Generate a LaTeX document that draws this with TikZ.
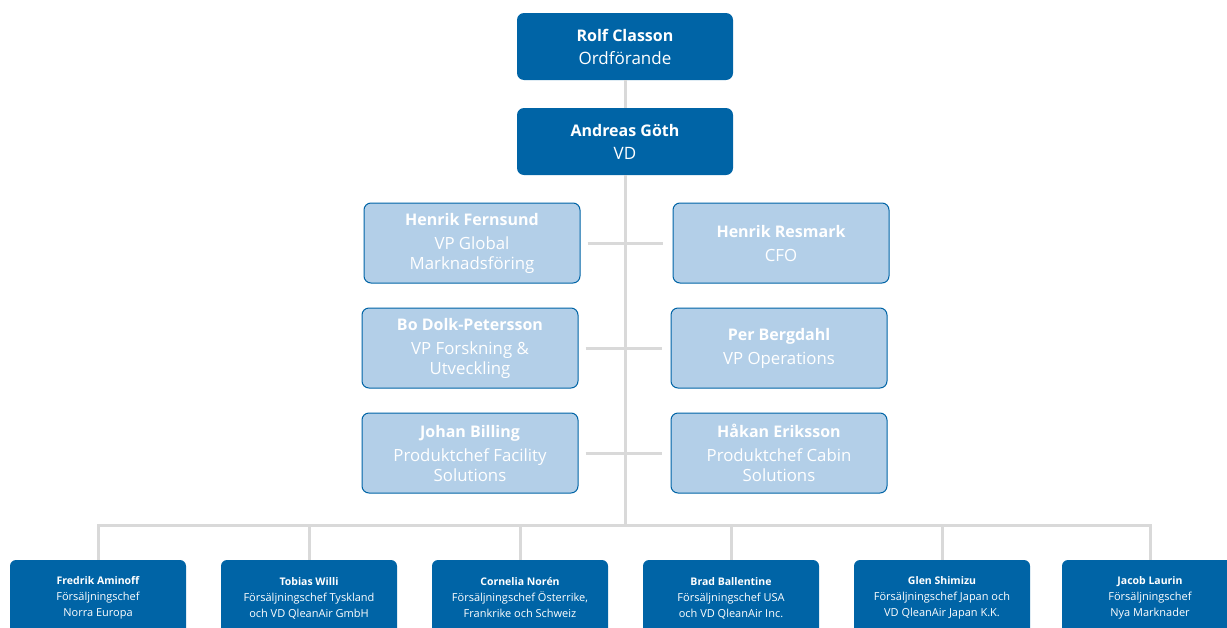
\documentclass[tikz,border=0pt]{standalone}
\usepackage{fontspec}
\setmainfont{Open Sans}
\usetikzlibrary{positioning}
\definecolor{qblue}{HTML}{0064A6}
\definecolor{qlight}{HTML}{B3CFE8}
\definecolor{qgray}{HTML}{D9D9D9}
\newcommand{\pname}[1]{{\fontsize{16}{22}\selectfont\bfseries #1}}
\newcommand{\sname}[1]{{\fontsize{10.5}{16}\selectfont\bfseries #1}}

\begin{document}
\begin{tikzpicture}[
        x=1pt, y=-1pt,
        topbox/.style={rectangle, rounded corners=7pt, fill=qblue, text=white, minimum width=216pt, minimum height=67pt, inner sep=0pt, align=center, font=\fontsize{17}{23}\selectfont},
        vpbox/.style={rectangle, rounded corners=7pt, draw=qblue, line width=1pt, fill=qlight, text=white, minimum width=216pt, minimum height=80pt, inner sep=0pt, align=center, font=\fontsize{16.8}{20}\selectfont},
        salesbox/.style={rectangle, rounded corners=6pt, fill=qblue, text=white, minimum width=176pt, minimum height=76pt, inner sep=0pt, align=center, font=\fontsize{11}{16}\selectfont},
        line/.style={draw=qgray, line width=3pt}
    ]
        \path[use as bounding box, clip] (0,0) rectangle (1227,627);

        % Ledning
        \node (chair) [topbox] at (625,46.5) {\pname{Rolf Classon}\\Ordförande};
        \node (ceo) [topbox] at (625,141.5) {\pname{Andreas Göth}\\VD};

        % Ledningsgrupp
        \node (fernsund) [vpbox] at (472,243) {\pname{Henrik Fernsund}\\[4pt]VP Global\\Marknadsföring};
        \node (resmark) [vpbox] at (781,243) {\pname{Henrik Resmark}\\[4pt]CFO};
        \node (dolk) [vpbox] at (470,348) {\pname{Bo Dolk-Petersson}\\[4pt]VP Forskning \&\\Utveckling};
        \node (bergdahl) [vpbox] at (779,348) {\pname{Per Bergdahl}\\[4pt]VP Operations};
        \node (billing) [vpbox] at (470,453) {\pname{Johan Billing}\\[4pt]Produktchef Facility\\Solutions};
        \node (eriksson) [vpbox] at (779,453) {\pname{Håkan Eriksson}\\[4pt]Produktchef Cabin\\Solutions};

        % Försäljning
        \node (aminoff) [salesbox] at (98,598) {\sname{Fredrik Aminoff}\\Försäljningschef\\Norra Europa};
        \node (willi) [salesbox] at (309,598) {\sname{Tobias Willi}\\Försäljningschef Tyskland\\och VD QleanAir GmbH};
        \node (noren) [salesbox] at (520,598) {\sname{Cornelia Norén}\\Försäljningschef Österrike,\\Frankrike och Schweiz};
        \node (ballentine) [salesbox] at (731,598) {\sname{Brad Ballentine}\\Försäljningschef USA\\och VD QleanAir Inc.};
        \node (shimizu) [salesbox] at (942,598) {\sname{Glen Shimizu}\\Försäljningschef Japan och\\VD QleanAir Japan K.K.};
        \node (laurin) [salesbox] at (1150,598) {\sname{Jacob Laurin}\\Försäljningschef\\Nya Marknader};

        % Linjer
        \coordinate (bus) at (625,525);
        \draw [line] (chair) -- (ceo);
        \draw [line] (ceo) -- (bus);
        \draw [line] ([xshift=7pt]fernsund.east) -- ([xshift=-10pt]resmark.west);
        \draw [line] ([xshift=7pt]dolk.east) -- ([xshift=-9pt]bergdahl.west);
        \draw [line] ([xshift=7pt]billing.east) -- ([xshift=-9pt]eriksson.west);
        \draw [line] (aminoff.north) |- (bus) -| (laurin.north);
        \foreach \n in {willi, noren, ballentine, shimizu}
            \draw [line] (\n.north) -- (\n.north |- bus);
    \end{tikzpicture}
\end{document}
